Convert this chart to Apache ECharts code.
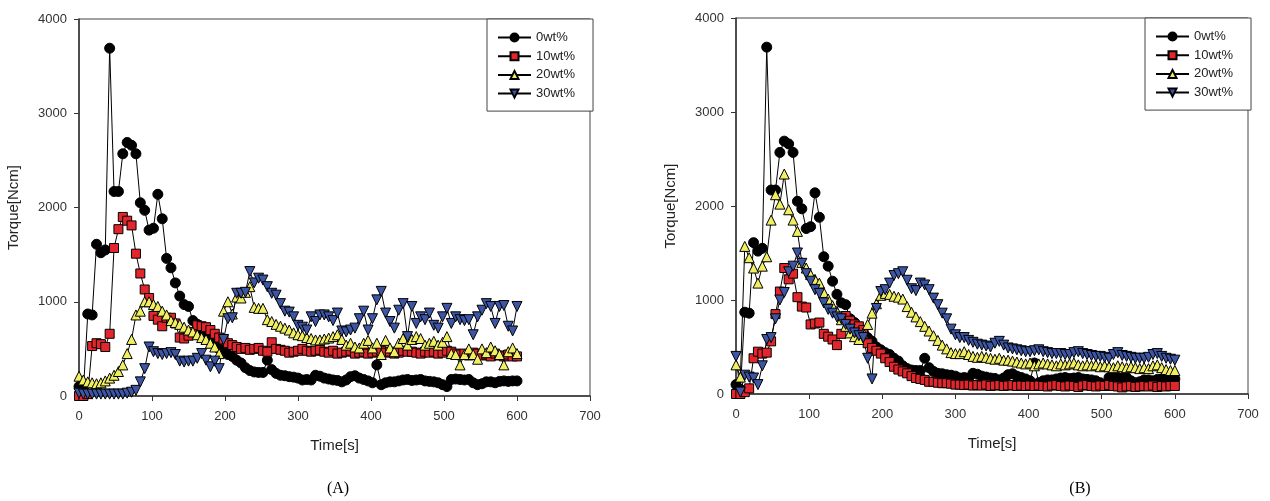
<!DOCTYPE html>
<html>
<head>
<meta charset="utf-8">
<script src="https://cdn.jsdelivr.net/npm/echarts@6/dist/echarts.min.js"></script>
<style>
html,body{margin:0;padding:0;background:#fff;}
#chart{width:1270px;height:501px;}
</style>
</head>
<body>
<div id="chart"></div>
<script>
// time axis (s)
var times=[0,6,12,18,24,30,36,42,48,54,60,66,72,78,84,90,96,102,108,114,120,126,132,138,144,150,156,162,168,174,180,186,192,198,204,210,216,222,228,234,240,246,252,258,264,270,276,282,288,294,300,306,312,318,324,330,336,342,348,354,360,366,372,378,384,390,396,402,408,414,420,426,432,438,444,450,456,462,468,474,480,486,492,498,504,510,516,522,528,534,540,546,552,558,564,570,576,582,588,594,600];
var names=['0wt%','10wt%','20wt%','30wt%'];
var xTicks=[0,100,200,300,400,500,600,700];
var yTicks=[0,1000,2000,3000,4000];

// 0wt% (same in both panels)
var wt0=[100,50,870,860,1610,1520,1550,3690,2170,2170,2570,2690,2660,2570,2050,1970,1760,1780,2140,1880,1460,1360,1200,1060,970,950,
800,760,700,660,600,560,500,470,440,420,
380,350,300,270,255,250,250,380,280,240,
220,215,205,200,190,170,175,170,220,210,
190,180,170,165,150,170,205,215,190,175,
160,140,330,120,140,150,150,160,170,175,
165,170,175,160,155,150,140,120,100,175,
180,175,170,175,140,120,130,150,150,140,
155,160,155,160,160];

// panel A
var wt10A=[0,0,20,530,560,550,520,660,1570,1770,
1900,1860,1810,1510,1300,1130,1040,850,810,740,
830,830,770,620,610,640,680,750,740,730,
700,660,620,600,560,540,520,500,510,490,
500,510,480,470,570,500,490,480,460,470,
480,500,480,470,480,490,470,460,480,450,
460,470,480,450,460,470,450,460,470,480,
460,470,450,460,480,470,470,460,450,470,
460,470,450,460,480,470,450,440,450,430,
460,450,430,440,420,450,430,420,440,420,
420];
var wt20A=[210,170,150,140,130,140,160,190,220,260,
330,450,600,860,900,1000,1000,970,950,900,
860,800,780,760,730,700,680,650,620,600,
560,520,450,900,1000,870,1050,1040,1100,1160,
940,930,930,810,790,760,740,720,700,670,
650,640,620,610,595,595,605,615,630,650,
600,540,560,520,510,560,590,510,560,440,
590,510,470,560,610,540,600,630,610,540,
560,580,540,570,630,450,440,330,440,500,
440,390,500,460,520,480,440,330,470,510,
450];
var wt30A=[30,20,20,20,20,20,20,20,20,20,
20,30,40,60,150,290,520,470,450,440,
450,460,440,370,360,370,370,400,450,380,
310,370,290,600,820,830,1090,1090,1100,1320,
1200,1250,1230,1160,1090,1070,980,900,890,840,
750,730,700,840,790,860,860,840,800,880,
690,680,700,720,820,900,700,820,1020,1110,
880,790,720,910,980,630,950,770,840,810,
880,750,720,840,930,770,840,810,800,810,
650,840,910,980,950,770,950,960,740,690,
950];

// panel B
var wt10B=[0,0,20,60,380,450,430,440,560,850,
1090,1340,1220,1280,1030,930,920,740,750,760,
640,610,580,520,640,830,780,740,720,680,
540,490,460,430,380,340,290,260,240,220,
190,170,160,150,130,130,120,115,115,110,
100,100,95,100,90,95,90,100,85,90,
95,85,90,95,85,90,85,90,85,90,
85,80,90,95,85,80,90,85,75,90,
95,85,80,90,85,95,85,80,70,80,
85,75,80,85,80,90,75,85,80,85,
85];
var wt20B=[310,180,1570,1450,1340,1180,1360,1460,1850,2120,
2020,2340,1960,1850,1730,1400,1340,1270,1220,1180,
1080,1010,940,880,790,720,650,610,580,650,
740,860,960,1050,1070,1060,1040,1030,1010,930,
870,820,770,720,670,620,570,520,480,440,
430,430,450,420,400,390,400,390,380,370,
380,360,360,350,340,330,320,330,300,320,
330,320,310,300,320,310,320,330,310,300,
310,300,310,290,300,290,280,300,290,280,
290,280,270,280,270,300,310,280,260,250,
250];
var wt30B=[400,20,200,180,170,100,300,580,600,800,
1000,1080,1300,1360,1500,1390,1280,1200,1110,1070,
970,900,860,820,800,740,690,650,620,600,
380,160,910,1090,1110,1180,1260,1280,1300,1210,
1120,1100,1180,1160,1110,1020,950,860,800,690,
630,600,600,570,550,530,520,510,500,540,
560,520,490,480,470,460,450,450,460,470,
450,440,430,430,430,420,420,440,450,430,
420,410,400,400,390,380,420,440,410,400,
390,380,380,380,390,420,430,400,380,370,
360];

function pairs(xs,ys){
	var out=[];
	for(var i=0;i<ys.length;i++){
		out.push([xs[i],ys[i]]);
	}
	return out;
}

var font='"Liberation Sans", Arial, sans-serif';
var marks=[
	{symbol:'circle',color:'#000000',size:10,rot:0},
	{symbol:'rect',color:'#e3262b',size:9,rot:0},
	{symbol:'triangle',color:'#f0ef62',size:10,rot:0},
	{symbol:'triangle',color:'#3d55a5',size:10,rot:180}
];

function mkSeries(idx,vals,ax){
	var m=marks[idx];
	return {
		name:names[idx],
		type:'line',
		xAxisIndex:ax,
		yAxisIndex:ax,
		data:pairs(times,vals),
		symbol:m.symbol,
		symbolSize:m.size,
		symbolRotate:m.rot,
		showAllSymbol:true,
		itemStyle:{color:m.color,borderColor:'#000',borderWidth:1},
		lineStyle:{color:'#000',width:1},
		emphasis:{disabled:true}
	};
}

function mkX(gi){
	return {
		gridIndex:gi,type:'value',min:xTicks[0],max:xTicks[xTicks.length-1],interval:100,
		name:'Time[s]',nameLocation:'middle',nameGap:42,
		nameTextStyle:{fontFamily:font,fontSize:15,color:'#222'},
		axisLine:{lineStyle:{color:'#333',width:1.5}},
		axisTick:{show:true,inside:false,length:5,lineStyle:{color:'#333',width:1}},
		axisLabel:{margin:14,fontFamily:font,fontSize:13,color:'#333'},
		splitLine:{show:false}
	};
}
function mkY(gi){
	return {
		gridIndex:gi,type:'value',min:yTicks[0],max:yTicks[yTicks.length-1],interval:1000,
		name:'Torque[Ncm]',nameLocation:'middle',nameGap:58,
		nameTextStyle:{fontFamily:font,fontSize:15,color:'#222'},
		axisLine:{show:true,lineStyle:{color:'#333',width:1.5}},
		axisTick:{show:true,inside:false,length:5,lineStyle:{color:'#333',width:1}},
		axisLabel:{margin:12,fontFamily:font,fontSize:13,color:'#333',formatter:function(v){return String(v);}},
		splitLine:{show:false}
	};
}
function mkLegend(left,top){
	return {
		orient:'vertical',left:left,top:top,
		data:names,
		padding:[12,18,11,10],
		itemWidth:33,itemHeight:10,itemGap:5.7,
		borderColor:'#444',borderWidth:1,
		backgroundColor:'#fff',
		selectedMode:false,
		textStyle:{fontFamily:font,fontSize:13,color:'#222'}
	};
}

var chart=echarts.init(document.getElementById('chart'));
chart.setOption({
	animation:false,
	backgroundColor:'#fff',
	title:[
		{text:'(A)',left:333,top:476,textAlign:'center',textStyle:{fontFamily:'"Liberation Serif", "Times New Roman", serif',fontSize:16,fontWeight:'normal',color:'#000'}},
		{text:'(B)',left:1075,top:476,textAlign:'center',textStyle:{fontFamily:'"Liberation Serif", "Times New Roman", serif',fontSize:16,fontWeight:'normal',color:'#000'}}
	],
	grid:[
		{left:79,top:19,width:511,height:377,show:true,borderColor:'#444',borderWidth:1,backgroundColor:'transparent'},
		{left:736,top:18,width:512,height:376,show:true,borderColor:'#444',borderWidth:1,backgroundColor:'transparent'}
	],
	legend:[mkLegend(487,19),mkLegend(1145,18)],
	xAxis:[mkX(0),mkX(1)],
	yAxis:[mkY(0),mkY(1)],
	series:[
		mkSeries(0,wt0,0),mkSeries(1,wt10A,0),mkSeries(2,wt20A,0),mkSeries(3,wt30A,0),
		mkSeries(0,wt0,1),mkSeries(1,wt10B,1),mkSeries(2,wt20B,1),mkSeries(3,wt30B,1)
	]
});
</script>
</body>
</html>
